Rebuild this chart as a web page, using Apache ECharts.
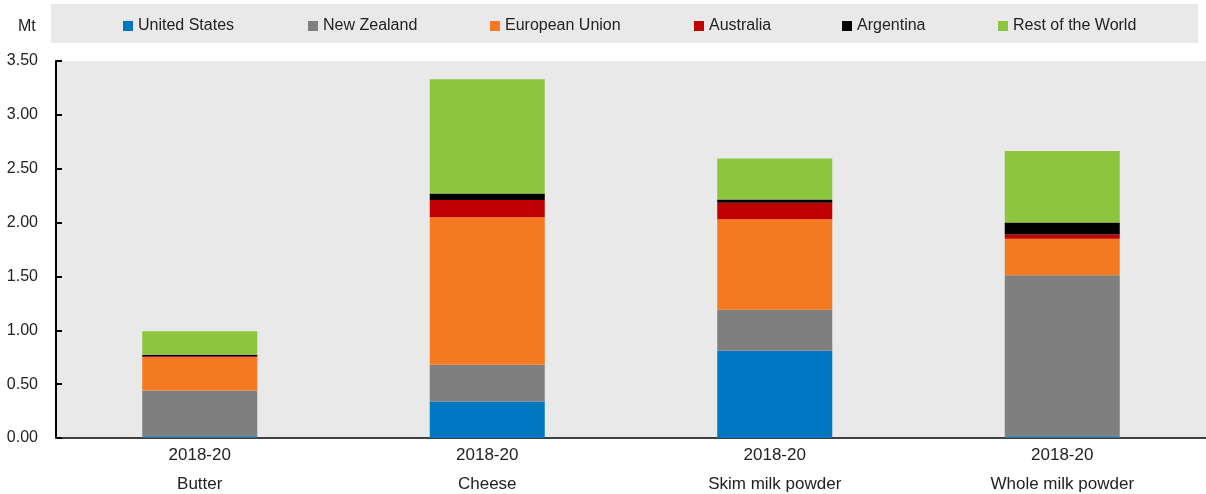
<!DOCTYPE html>
<html>
<head>
<meta charset="utf-8">
<script src="https://cdn.jsdelivr.net/npm/echarts@6/dist/echarts.min.js"></script>
<style>
html,body{margin:0;padding:0;background:#fff;}
#chart{width:1206px;height:494px;}
</style>
</head>
<body>
<div id="chart"></div>
<script>
const categories = ['Butter', 'Cheese', 'Skim milk powder', 'Whole milk powder'];
const period = '2018-20';
const seriesNames = ['United States', 'New Zealand', 'European Union', 'Australia', 'Argentina', 'Rest of the World'];
const unitedStates = [0.01, 0.34, 0.81, 0.01];
const newZealand = [0.43, 0.34, 0.38, 1.50];
const europeanUnion = [0.31, 1.37, 0.84, 0.34];
const australia = [0.01, 0.16, 0.155, 0.04];
const argentina = [0.012, 0.06, 0.03, 0.11];
const restOfWorld = [0.22, 1.06, 0.38, 0.665];
const colors = ['#0078C1', '#7F7F7F', '#F47920', '#C00000', '#000000', '#8CC63F'];
const legendIconX = [123, 308, 490, 694, 842, 998];

const values = [unitedStates, newZealand, europeanUnion, australia, argentina, restOfWorld];
const font = 'Liberation Sans, Arial, sans-serif';

const chart = echarts.init(document.getElementById('chart'), null, {renderer: 'canvas'});
chart.setOption({
  animation: false,
  backgroundColor: '#ffffff',
  textStyle: {fontFamily: font},
  graphic: [
    {type: 'rect', z: 0, shape: {x: 51, y: 4, width: 1147, height: 39}, style: {fill: '#e9e9e9'}},
    {type: 'text', z: 5, style: {text: 'Mt', x: 18, y: 27, textVerticalAlign: 'middle', textAlign: 'left', fontSize: 16, fontFamily: font, fill: '#222'}}
  ],
  legend: seriesNames.map((name, i) => ({
    top: 13, left: legendIconX[i] - 5, z: 5,
    itemWidth: 10, itemHeight: 10,
    icon: 'rect',
    textStyle: {fontSize: 16, color: '#222', fontFamily: font},
    data: [name]
  })),
  grid: {
    left: 56, right: 0, top: 61, bottom: 56,
    outerBoundsMode: 'none',
    containLabel: false,
    show: true, backgroundColor: '#e9e9e9', borderWidth: 0
  },
  xAxis: {
    type: 'category',
    data: categories,
    axisLine: {lineStyle: {color: '#404040', width: 2}},
    axisTick: {show: false},
    axisLabel: {
      formatter: v => period + '\n' + v,
      fontSize: 17, lineHeight: 29, color: '#222', margin: 3, fontFamily: font
    }
  },
  yAxis: {
    type: 'value', min: 0, max: 3.5, interval: 0.5,
    axisLine: {show: true, lineStyle: {color: '#000', width: 2}},
    axisTick: {show: true, inside: true, length: 6, lineStyle: {color: '#000', width: 2}},
    splitLine: {show: false},
    axisLabel: {formatter: v => v.toFixed(2), fontSize: 16, color: '#222', margin: 18, fontFamily: font}
  },
  series: seriesNames.map((name, i) => ({
    name: name,
    type: 'bar',
    stack: 'total',
    barWidth: 115,
    itemStyle: {color: colors[i]},
    data: values[i]
  }))
});
</script>
</body>
</html>
